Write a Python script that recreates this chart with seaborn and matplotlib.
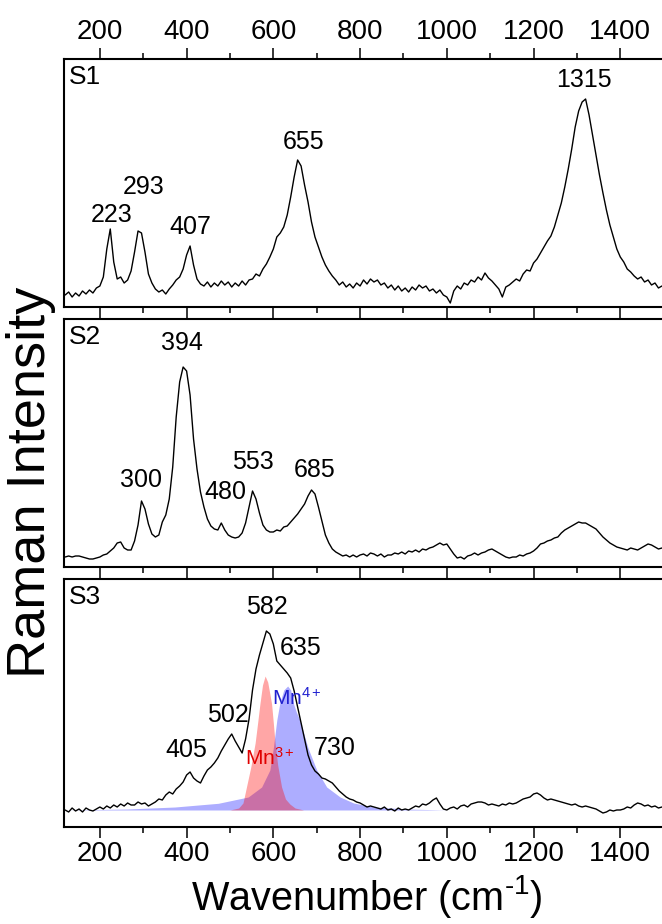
import numpy as np
import pandas as pd
import seaborn as sns
import matplotlib.pyplot as plt
from matplotlib.ticker import MultipleLocator

# spectra on a grid of 8 cm-1 starting at 120 cm-1
# (intensity in arbitrary units, 0 = bottom of each panel, 248 = top)
s1 = [12, 15, 10, 14, 11, 16, 13, 17, 14, 19,   # 120
      21, 30, 58, 78, 45, 28, 30, 24, 27, 36,   # 200
      55, 76, 74, 55, 33, 24, 18, 15, 17, 13,   # 280
      18, 22, 27, 30, 38, 52, 61, 42, 28, 23,   # 360
      21, 25, 20, 24, 21, 26, 22, 25, 20, 24,   # 440
      21, 26, 22, 27, 28, 33, 31, 38, 43, 50,   # 520
      58, 70, 74, 80, 92, 110, 130, 147, 141, 122,   # 600
      105, 85, 70, 60, 50, 42, 36, 31, 27, 22,  # 680
      25, 20, 23, 19, 24, 21, 27, 23, 28, 25,   # 760
      27, 22, 24, 19, 22, 17, 21, 16, 19, 15,   # 840
      20, 17, 22, 19, 21, 16, 18, 14, 17, 12,   # 920
      10, 4, 16, 21, 18, 24, 22, 27, 25, 30,    # 1000
      27, 34, 29, 26, 22, 18, 10, 20, 22, 25,   # 1080
      28, 26, 33, 37, 36, 44, 48, 54, 60, 66,   # 1160
      71, 80, 92, 104, 120, 138, 158, 180, 196, 205,   # 1240
      208, 192, 172, 152, 132, 114, 97, 82, 70, 58,    # 1320
      50, 45, 38, 35, 31, 28, 30, 25, 27, 22,   # 1400
      24, 19, 21]                               # 1480

s2 = [10, 11, 10, 11, 11, 10, 9, 8, 8, 9,       # 120
      10, 12, 13, 16, 19, 24, 25, 19, 17, 17,   # 200
      26, 42, 66, 58, 43, 33, 30, 32, 45, 52,   # 280
      68, 100, 150, 185, 200, 196, 172, 128, 98, 75,   # 360
      60, 48, 41, 38, 37, 44, 37, 32, 30, 29,   # 440
      30, 34, 44, 60, 76, 68, 54, 42, 37, 35,   # 520
      35, 37, 36, 40, 41, 45, 49, 53, 58, 63,   # 600
      71, 77, 73, 60, 46, 32, 24, 18, 15, 13,   # 680
      11, 12, 10, 12, 10, 12, 13, 11, 14, 13,   # 760
      11, 13, 10, 12, 12, 14, 13, 15, 13, 16,   # 840
      15, 17, 15, 18, 17, 19, 20, 22, 24, 22,   # 920
      23, 18, 13, 9, 10, 8, 11, 12, 14, 12,     # 1000
      14, 15, 17, 18, 16, 14, 12, 10, 9, 10,    # 1080
      10, 12, 11, 13, 14, 16, 19, 23, 24, 26,   # 1160
      27, 29, 30, 34, 37, 39, 41, 43, 45, 44,   # 1240
      44, 42, 40, 38, 34, 30, 27, 24, 22, 20,   # 1320
      19, 18, 17, 19, 18, 17, 19, 21, 23, 22,   # 1400
      20, 18, 19]                               # 1480

s3 = [17, 15, 19, 16, 18, 15, 19, 17, 16, 18,   # 120
      20, 18, 21, 19, 22, 20, 23, 21, 24, 22,   # 200
      22, 25, 23, 24, 21, 23, 25, 28, 27, 32,   # 280
      35, 33, 38, 41, 45, 52, 55, 49, 46, 44,   # 360
      51, 57, 60, 64, 69, 76, 82, 88, 93, 86,   # 440
      80, 74, 88, 108, 137, 158, 172, 184, 196, 193,   # 520
      183, 166, 162, 158, 154, 149, 136, 120, 104, 88,  # 600
      72, 62, 56, 53, 49, 48, 46, 44, 40, 36,   # 680
      33, 30, 28, 27, 25, 24, 22, 20, 21, 20,   # 760
      19, 18, 20, 17, 18, 16, 19, 17, 18, 17,   # 840
      19, 21, 20, 23, 22, 24, 27, 29, 23, 18,   # 920
      17, 19, 20, 18, 21, 22, 20, 23, 24, 25,   # 1000
      25, 24, 22, 23, 22, 21, 23, 22, 24, 23,   # 1080
      24, 26, 28, 29, 30, 33, 34, 32, 29, 27,   # 1160
      28, 27, 26, 25, 24, 23, 22, 23, 21, 20,   # 1240
      21, 20, 19, 18, 16, 14, 15, 17, 16, 17,   # 1320
      17, 18, 20, 19, 22, 24, 23, 21, 22, 20,   # 1400
      21, 19, 20]                               # 1480

# fitted components under S3
fit_base = 17
mn3_wn = [500, 520, 530, 538, 548, 558, 564, 569, 575, 581, 587, 592, 596,
          600, 604, 610, 619, 628, 638, 650, 670]
mn3_int = [17, 19, 24, 40, 60, 84, 105, 123, 142, 151, 145, 133, 123,
           104, 84, 62, 40, 28, 23, 19, 17]
mn4_wn = [120, 262, 373, 473, 542, 573, 592, 600, 608, 615, 624, 633, 640,
          646, 653, 661, 680, 700, 723, 754, 785, 831, 908, 1000, 1510]
mn4_int = [17, 18, 20, 23.7, 30, 40, 57, 79, 107, 124, 137, 141, 137,
           124, 115, 107, 79, 57, 40, 30, 24, 20, 18, 17, 17]

# peak labels: (text, wavenumber, intensity)
s1_peaks = [('223', 227, 92), ('293', 300, 120), ('407', 408, 80),
            ('655', 669, 165), ('1315', 1317, 227)]
s2_peaks = [('394', 389, 224), ('300', 296, 87), ('480', 489, 75),
            ('553', 554, 105), ('685', 696, 97)]
s3_peaks = [('582', 585, 220), ('635', 662, 179), ('502', 495, 112),
            ('405', 400, 77), ('730', 742, 79)]

wn = np.arange(120, 1497, 8)
assert len(wn) == len(s1) == len(s2) == len(s3)
spectra = pd.DataFrame({'wn': wn, 'S1': s1, 'S2': s2, 'S3': s3})

sns.set_theme(style='ticks')
plt.rcParams['font.family'] = ['Liberation Sans', 'DejaVu Sans']
plt.rcParams['mathtext.fontset'] = 'custom'
plt.rcParams['mathtext.rm'] = 'Liberation Sans'
plt.rcParams['mathtext.it'] = 'Liberation Sans'
plt.rcParams['text.color'] = 'black'
plt.rcParams['xtick.color'] = 'black'
plt.rcParams['xtick.labelcolor'] = 'black'

fig = plt.figure(figsize=(6.62, 9.24), dpi=100)
W, H = 662, 924
left_px, right_px = 64.3, 668
tops = [59, 319, 579]
panel_h = 248
xlim = (118, 1510)

axes = []
for top in tops:
    ax = fig.add_axes([left_px / W, 1 - (top + panel_h) / H,
                       (right_px - left_px) / W, panel_h / H])
    axes.append(ax)

for i, (ax, name, peaks) in enumerate(zip(axes, ['S1', 'S2', 'S3'],
                                          [s1_peaks, s2_peaks, s3_peaks])):
    if name == 'S3':
        ax.fill_between(mn4_wn, fit_base, mn4_int, color='#0000ff',
                        alpha=0.32, lw=0)
        ax.fill_between(mn3_wn, fit_base, mn3_int, color='#ff0000',
                        alpha=0.35, lw=0)
    sns.lineplot(data=spectra, x='wn', y=name, ax=ax, color='black', lw=1.0)
    ax.set_xlim(*xlim)
    ax.set_ylim(0, panel_h)
    ax.set_xlabel('')
    ax.set_ylabel('')
    ax.set_yticks([])
    ax.xaxis.set_major_locator(MultipleLocator(200))
    ax.xaxis.set_minor_locator(MultipleLocator(100))
    ax.tick_params(axis='x', which='major', direction='out', length=8,
                   width=1.1, labelsize=20, pad=2)
    ax.tick_params(axis='x', which='minor', direction='out', length=4,
                   width=1.1)
    for sp in ax.spines.values():
        sp.set_linewidth(1.5)
        sp.set_color('black')
    ax.text(0.007, 0.975, name, transform=ax.transAxes, ha='left', va='top',
            fontsize=19)
    for txt, x, y in peaks:
        ax.text(x, y, txt, ha='center', va='center', fontsize=18)
    if i == 0:
        ax.tick_params(axis='x', which='both', top=True, labeltop=True,
                       bottom=True, labelbottom=False)
    elif i == 1:
        ax.tick_params(axis='x', which='both', labelbottom=False)

axes[2].text(654, 129, 'Mn$^{4+}$', color='#2020d0', ha='center',
             va='center', fontsize=15)
axes[2].text(592, 69, 'Mn$^{3+}$', color='#e00000', ha='center',
             va='center', fontsize=15)

fig.text(31 / W, 1 - 482 / H, 'Raman Intensity', rotation=90, ha='center',
         va='center', fontsize=39)
fig.text(367 / W, 1 - 896 / H, r'Wavenumber (cm$^{\text{-}1}$)',
         ha='center', va='center', fontsize=28.5)

fig.savefig('out.png', dpi=100)
